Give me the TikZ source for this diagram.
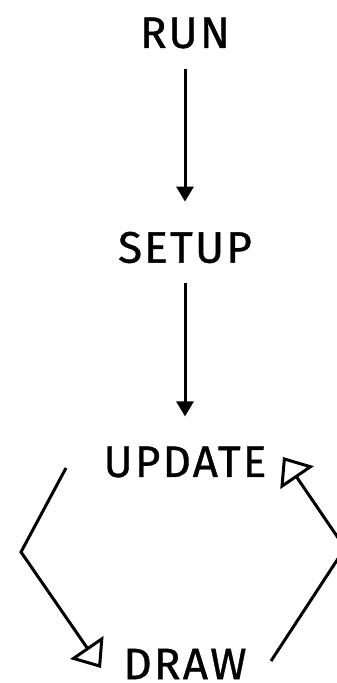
\documentclass[tikz,border=0pt]{standalone}
\usepackage{fontspec}
\setmainfont{Fira Sans}[LetterSpace=5, FakeBold=0.8]
\usetikzlibrary{arrows.meta, positioning}

\begin{document}
\begin{tikzpicture}[
  x=1pt, y=1pt,
  node distance=183pt,
  stage/.style={inner sep=0pt, font=\fontsize{44}{48}\selectfont},
  flow/.style={-{Triangle[length=15pt, width=17pt]}, line width=3pt,
    shorten <=20pt, shorten >=30pt},
  loop/.style={-{Triangle[open, length=25pt, width=40pt]}, line width=3pt},
]
\useasboundingbox (0,0) rectangle (337,683);

% main flow, top to bottom
\node[stage] (run) at (185,650) {RUN};
\node[stage, below=of run] (setup) {SETUP};
\node[stage, below=of setup] (update) {UPDATE};
\node[stage, below=171pt of update] (drawstep) {DRAW};

\draw[flow] (run) -- (setup);
\draw[flow] (setup) -- (update);

% loop round update and draw
\coordinate (leftstart) at (66,215);
\coordinate (leftbend) at (21,131);
\coordinate (lefttip) at (101,15);
\coordinate (rightstart) at (271,22);
\coordinate (rightbend) at (345,135);
\coordinate (righttip) at (283,226);

\draw[loop] (leftstart) -- (leftbend) -- (lefttip);
\draw[loop] (rightstart) -- (rightbend) -- (righttip);
\end{tikzpicture}
\end{document}
